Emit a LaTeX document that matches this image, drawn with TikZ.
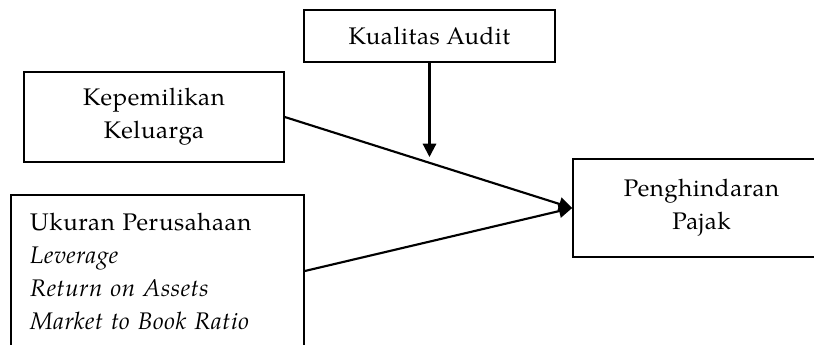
\documentclass[tikz,border=0pt]{standalone}
\usepackage{fontspec}
\setmainfont[LetterSpace=2.5]{TeX Gyre Pagella}
\usetikzlibrary{arrows.meta,positioning}

\begin{document}
\begin{tikzpicture}[x=0.75pt,y=-0.75pt,
		kotak/.style={draw, line width=1.2pt, inner sep=0pt, align=center,
			font=\fontsize{18}{24.75}\selectfont},
		panah/.style={line width=1.6pt, -{Triangle[length=10pt,width=10pt]}}]
	\useasboundingbox (0,0) rectangle (814,344);
	\clip (0,0) rectangle (814,344);
	
	\node[kotak, minimum width=188pt, minimum height=39pt] (kualitas) at (429.5,36) {Kualitas Audit};
	\node[kotak, minimum width=195pt, minimum height=67.5pt] (keluarga) at (154,117) {Kepemilikan\\Keluarga};
	\node[kotak, minimum width=219.75pt, minimum height=114pt, inner xsep=14.25pt,
		text width=191pt, align=left] (ukuran) at (157.5,271)
		{Ukuran Perusahaan\\\textit{Leverage}\\\textit{Return on Assets}\\\textit{Market to Book Ratio}};
	\node[kotak, minimum width=192.75pt, minimum height=73.5pt] (pajak) at (701.5,208) {Penghindaran\\Pajak};
	\coordinate (moderasi) at (429.5,157);
	
	\draw[panah] (keluarga.east) -- (pajak.west);
	\draw[panah] (ukuran.east) -- (pajak.west);
	\draw[panah] (kualitas.south) -- (moderasi);
\end{tikzpicture}
\end{document}
